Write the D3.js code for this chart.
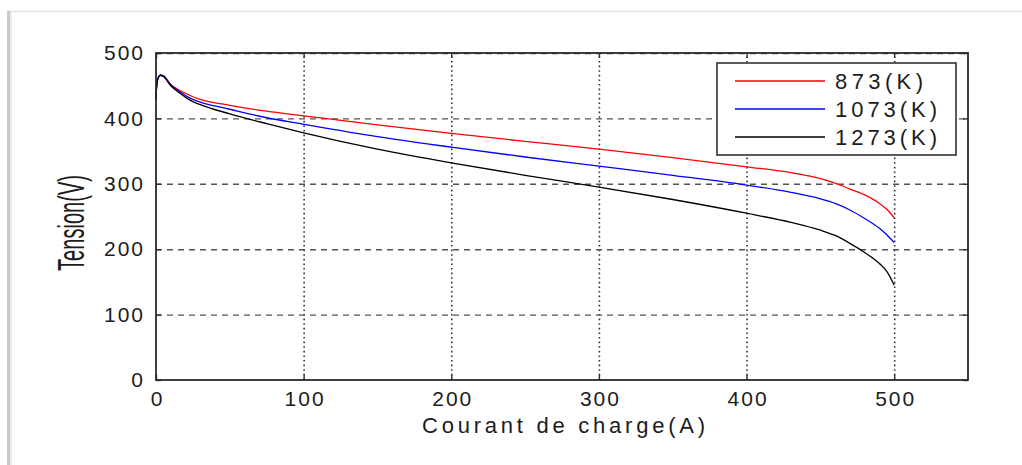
<!DOCTYPE html>
<html>
<head>
<meta charset="utf-8">
<script src="https://cdn.jsdelivr.net/npm/d3@7"></script>
<style>
  body { margin: 0; background: #fff; }
  svg { display: block; }
  text { font-family: "Liberation Sans", Arial, sans-serif; fill: #1c1c1c; }
</style>
</head>
<body>
<svg width="1022" height="465"></svg>
<script>
// courant de charge (A) and tension (V) for each temperature
var current = [0, 0.3, 1.5, 3, 5, 10, 16, 23, 30, 50, 75, 100, 150, 200, 250, 300, 350, 400, 430, 450, 460, 470, 480, 490, 495, 500];
var v873  = [428, 445, 462, 466, 465, 452, 443, 435, 429, 420, 411, 404, 390, 377, 365, 353, 340, 326, 317, 308, 301, 292, 283, 270, 261, 248];
var v1073 = [428, 445, 462, 466, 465, 451, 441, 431, 425, 414, 401, 391, 372, 356, 341, 327, 313, 298, 287, 277, 270, 260, 247, 232, 222, 210];
var v1273 = [428, 445, 462, 466, 464, 450, 439, 428, 421, 407, 392, 378, 353, 332, 313, 295, 276, 255, 241, 229, 221, 209, 195, 178, 166, 145];
var seriesNames = ["873(K)", "1073(K)", "1273(K)"];
var seriesColors = ["#ff0000", "#0000ff", "#000000"];
var xTicks = [0, 100, 200, 300, 400, 500];
var yTicks = [0, 100, 200, 300, 400, 500];

var svg = d3.select("svg"),
    margin = {top: 53, right: 54, bottom: 85, left: 156},
    width = +svg.attr("width") - margin.left - margin.right,
    height = +svg.attr("height") - margin.top - margin.bottom;

// paper frame with a soft shadow on the left
svg.append("rect").attr("x", 0).attr("y", 0).attr("width", 1022).attr("height", 465).attr("fill", "#fff");
svg.append("line").attr("x1", 8).attr("x2", 1022).attr("y1", 11.5).attr("y2", 11.5)
    .attr("stroke", "#e4e4e4").attr("stroke-width", 1.5);
svg.append("line").attr("x1", 8.5).attr("x2", 8.5).attr("y1", 11).attr("y2", 465)
    .attr("stroke", "#c8c8c8").attr("stroke-width", 3);
svg.append("line").attr("x1", 11).attr("x2", 11).attr("y1", 12).attr("y2", 465)
    .attr("stroke", "#ececec").attr("stroke-width", 2);

var g = svg.append("g").attr("transform", "translate(" + margin.left + "," + margin.top + ")");

var x = d3.scaleLinear().domain([0, 550]).range([0, width]);
var y = d3.scaleLinear().domain([0, 500]).range([height, 0]);

// grid
g.append("g")
    .attr("transform", "translate(0," + height + ")")
    .call(d3.axisBottom(x).tickValues(xTicks.slice(1)).tickSize(-height).tickFormat(""))
    .call(function(s) {
      s.select(".domain").remove();
      s.selectAll("line").attr("stroke", "#333").attr("stroke-width", 1.6).attr("stroke-dasharray", "1.6,3");
    });
g.append("g")
    .call(d3.axisLeft(y).tickValues(yTicks.slice(1)).tickSize(-width).tickFormat(""))
    .call(function(s) {
      s.select(".domain").remove();
      s.selectAll("line").attr("stroke", "#555").attr("stroke-width", 1.4).attr("stroke-dasharray", "6,5");
    });

// curves
var line = d3.line()
    .x(function(d) { return x(d[0]); })
    .y(function(d) { return y(d[1]); })
    .curve(d3.curveMonotoneX);

[v873, v1073, v1273].forEach(function(vals, i) {
  g.append("path")
      .datum(current.map(function(c, k) { return [c, vals[k]]; }))
      .attr("fill", "none")
      .attr("stroke", seriesColors[i])
      .attr("stroke-width", 1.3)
      .attr("d", line);
});

// box and axes
function styleAxis(s) {
  s.select(".domain").remove();
  s.selectAll("line").attr("stroke", "#333").attr("stroke-width", 1.4);
  s.selectAll("text").attr("font-size", 21).attr("letter-spacing", 2).attr("fill", "#1c1c1c");
}
g.append("g")
    .attr("transform", "translate(0," + height + ")")
    .call(d3.axisBottom(x).tickValues(xTicks).tickSizeInner(-5).tickSizeOuter(0).tickPadding(11))
    .call(styleAxis)
    .selectAll("text").attr("dx", "1");
g.append("g")
    .call(d3.axisTop(x).tickValues(xTicks).tickSizeInner(-5).tickSizeOuter(0).tickFormat(""))
    .call(styleAxis);
g.append("g")
    .call(d3.axisLeft(y).tickValues(yTicks).tickSizeInner(-5).tickSizeOuter(0).tickPadding(11))
    .call(styleAxis);
g.append("g")
    .attr("transform", "translate(" + width + ",0)")
    .call(d3.axisRight(y).tickValues(yTicks).tickSizeInner(-5).tickSizeOuter(0).tickFormat(""))
    .call(styleAxis);

g.append("rect")
    .attr("width", width).attr("height", height)
    .attr("fill", "none").attr("stroke", "#2a2a2a").attr("stroke-width", 1.8);

// axis labels
svg.append("text")
    .attr("x", 422).attr("y", 433)
    .attr("font-size", 22)
    .attr("textLength", 283).attr("lengthAdjust", "spacing")
    .text("Courant de charge(A)");

svg.append("text")
    .attr("transform", "translate(84,271) rotate(-90)")
    .attr("font-size", 36)
    .attr("fill", "#2a2a2a")
    .attr("textLength", 96).attr("lengthAdjust", "spacingAndGlyphs")
    .text("Tension(V)");

// legend
var legend = svg.append("g").attr("transform", "translate(717,63)");
legend.append("rect")
    .attr("width", 239).attr("height", 92)
    .attr("fill", "#fff").attr("stroke", "#333").attr("stroke-width", 1.6);

var item = legend.selectAll("g.item")
    .data(seriesNames)
    .enter().append("g")
      .attr("class", "item")
      .attr("transform", function(d, i) { return "translate(0," + (18 + i * 28) + ")"; });

item.append("line")
    .attr("x1", 18).attr("x2", 108)
    .attr("stroke", function(d, i) { return seriesColors[i]; })
    .attr("stroke-width", 1.3);

item.append("text")
    .attr("x", 118).attr("y", 8)
    .attr("font-size", 22)
    .attr("textLength", function(d) { return d.length === 6 ? 88 : 102; })
    .attr("lengthAdjust", "spacing")
    .text(function(d) { return d; });
</script>
</body>
</html>
